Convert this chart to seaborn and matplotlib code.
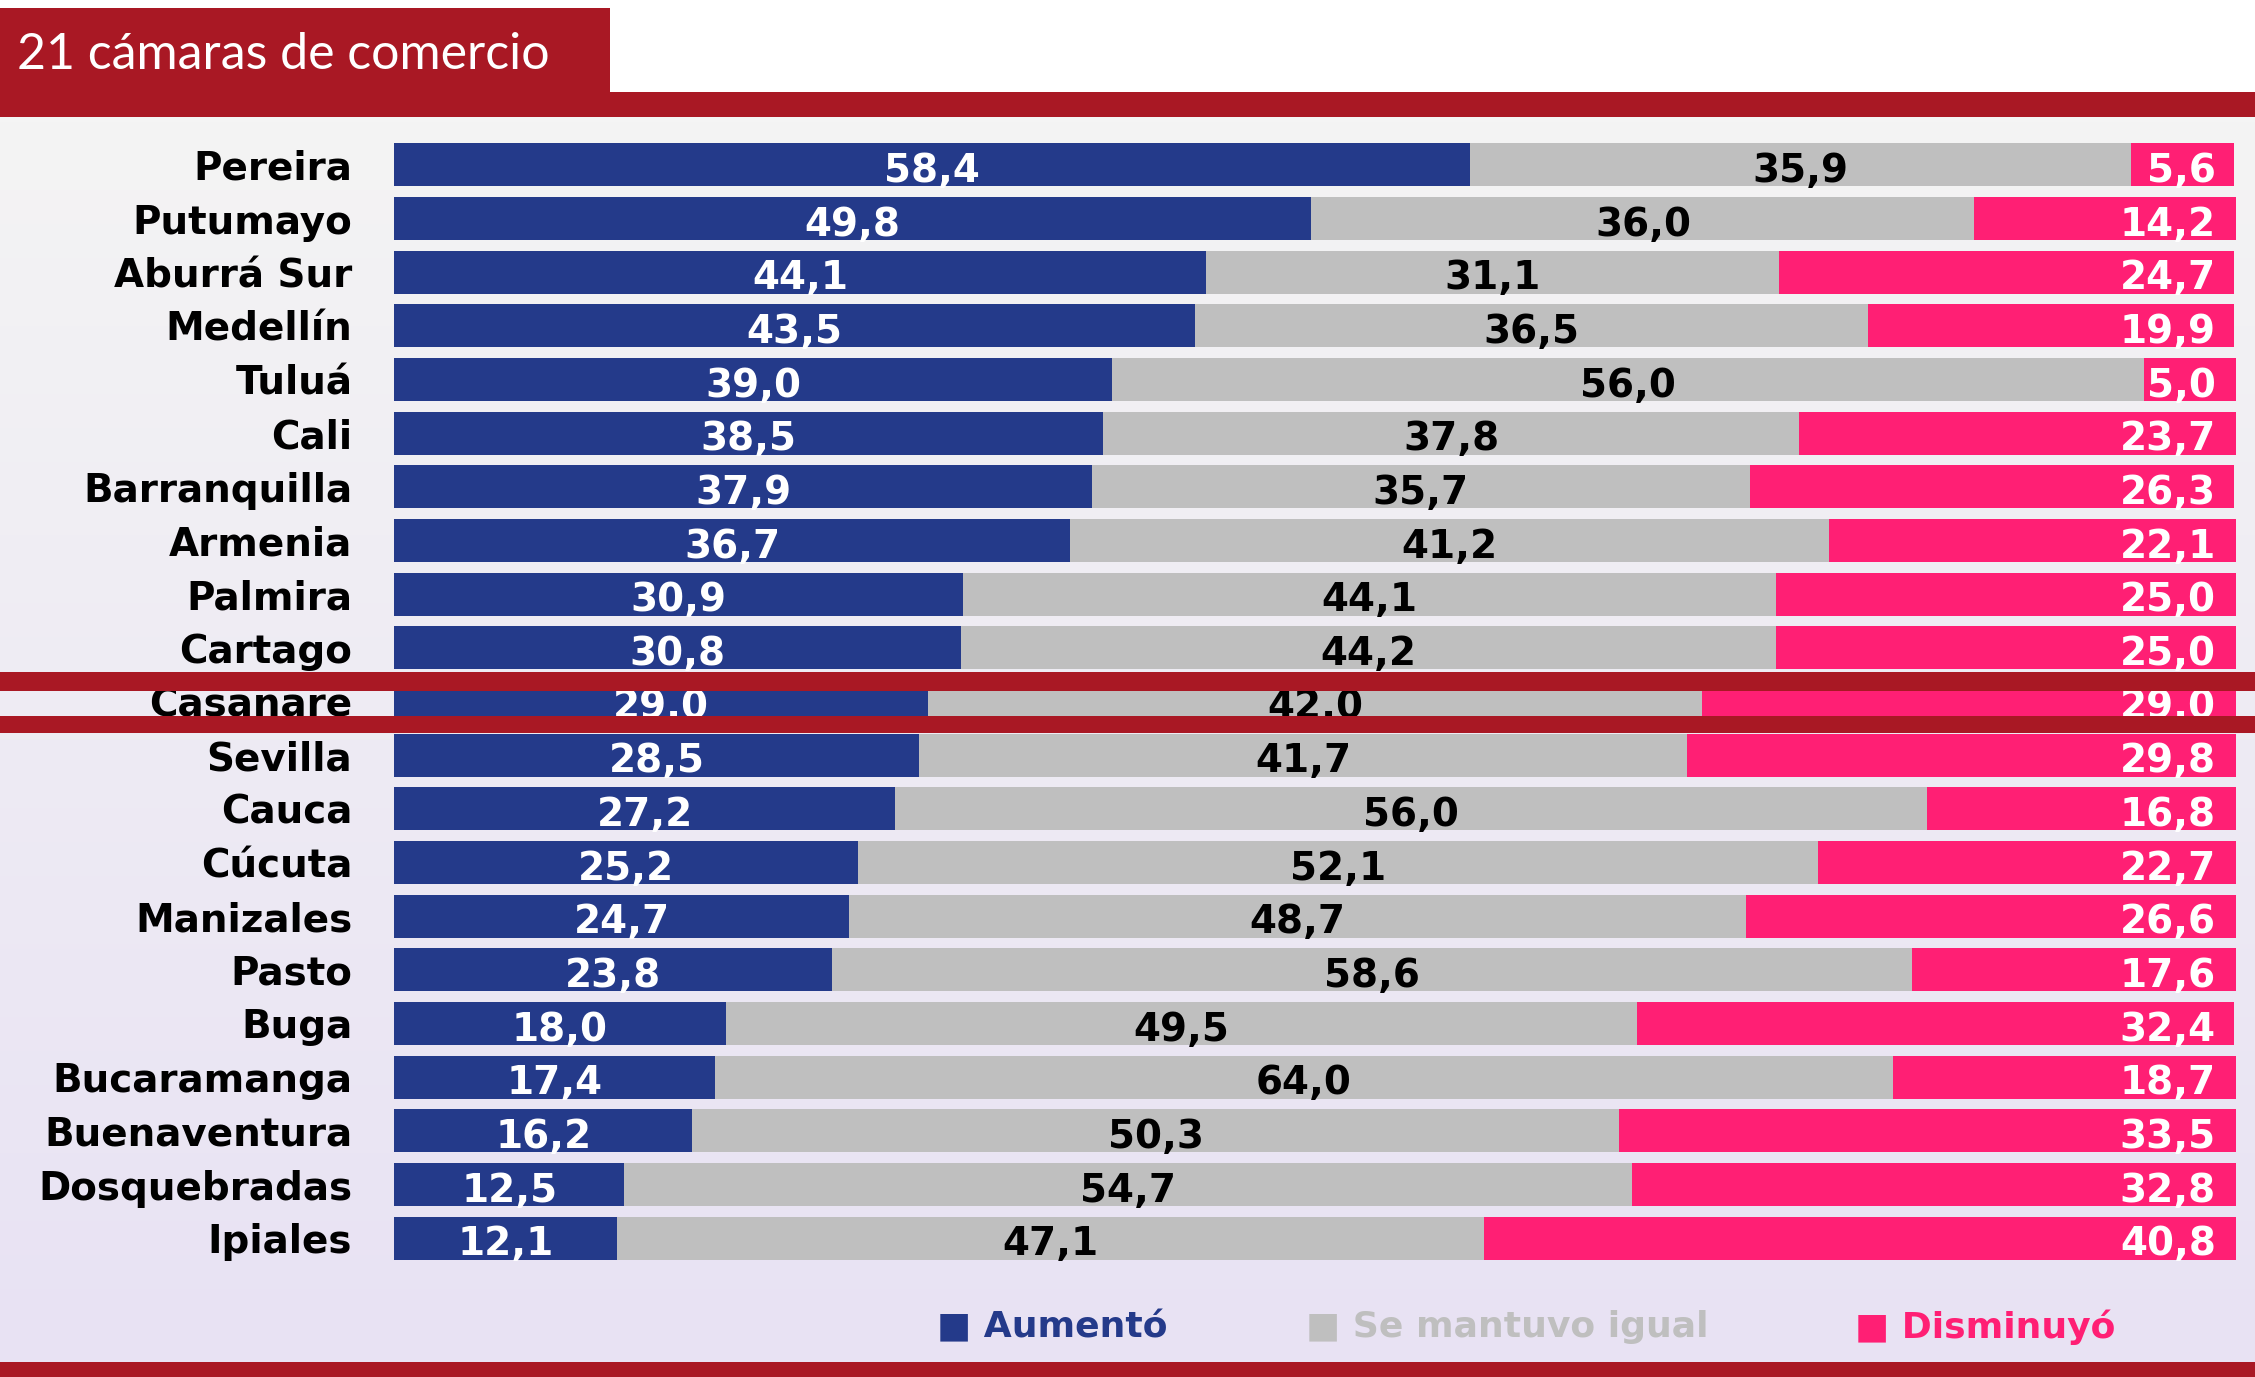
import numpy as np
import pandas as pd
import matplotlib
matplotlib.use("Agg")
import matplotlib.pyplot as plt
from matplotlib.patches import Rectangle
import matplotlib.colors as mcolors
import seaborn as sns

# ---- data ----
camaras = ["Pereira", "Putumayo", "Aburrá Sur", "Medellín", "Tuluá", "Cali",
           "Barranquilla", "Armenia", "Palmira", "Cartago", "Casanare", "Sevilla",
           "Cauca", "Cúcuta", "Manizales", "Pasto", "Buga", "Bucaramanga",
           "Buenaventura", "Dosquebradas", "Ipiales"]
aumento = [58.4, 49.8, 44.1, 43.5, 39.0, 38.5, 37.9, 36.7, 30.9, 30.8, 29.0,
           28.5, 27.2, 25.2, 24.7, 23.8, 18.0, 17.4, 16.2, 12.5, 12.1]
igual = [35.9, 36.0, 31.1, 36.5, 56.0, 37.8, 35.7, 41.2, 44.1, 44.2, 42.0,
         41.7, 56.0, 52.1, 48.7, 58.6, 49.5, 64.0, 50.3, 54.7, 47.1]
disminuyo = [5.6, 14.2, 24.7, 19.9, 5.0, 23.7, 26.3, 22.1, 25.0, 25.0, 29.0,
             29.8, 16.8, 22.7, 26.6, 17.6, 32.4, 18.7, 33.5, 32.8, 40.8]
separador = [","] * 10 + ["."] + [","] * 10
series = ["Aumentó", "Se mantuvo igual", "Disminuyó"]
titulo = "21 cámaras de comercio"

# ---- styles ----
AZUL = "#243a8a"
GRIS = "#bfbfbf"
ROSA = "#ff1f74"
ROJO = "#a91824"

sns.set_theme(style="white")
plt.rcParams["font.family"] = ["DejaVu Sans"]

W, H = 2255, 1377
fig = plt.figure(figsize=(W / 100, H / 100), dpi=100)
fig.patch.set_facecolor("white")

# background gradient
bg = fig.add_axes([0, 0, 1, 1], zorder=-10)
bg.set_axis_off()
bg.set_xlim(0, W)
bg.set_ylim(H, 0)
c_top = np.array(mcolors.to_rgb("#f4f4f4"))
c_bot = np.array(mcolors.to_rgb("#e8e2f3"))
t = np.linspace(0, 1, 256)[:, None]
grad = (c_top[None, :] * (1 - t) + c_bot[None, :] * t)[:, None, :]
bg.imshow(grad, extent=(0, W, 1362, 117), aspect="auto", zorder=0)

# main axes
ax = fig.add_axes([394 / W, 1 - 1265 / H, 1842 / W, (1265 - 138) / H])
df = pd.DataFrame({"camara": camaras, "aumento": aumento,
                   "igual": igual, "disminuyo": disminuyo})
df["c2"] = df["aumento"] + df["igual"]
df["c3"] = df["c2"] + df["disminuyo"]

for col, color in zip(["c3", "c2", "aumento"], [ROSA, GRIS, AZUL]):
    sns.barplot(data=df, x=col, y="camara", color=color, saturation=1,
                width=0.8, errorbar=None, orient="h", ax=ax, linewidth=0)

ax.set_xlim(0, 100)
ax.set_ylim(len(camaras) - 0.5, -0.5)
ax.set_xlabel("")
ax.set_ylabel("")
ax.set_xticks([])
ax.patch.set_alpha(0)
for s in ax.spines.values():
    s.set_visible(False)
ax.tick_params(axis="y", length=0, pad=30)
for lab in ax.get_yticklabels():
    lab.set_fontsize(28)
    lab.set_fontweight("heavy")
    lab.set_color("black")

def fmt(v, sep):
    return f"{v:.1f}".replace(".", sep)

kw = dict(fontsize=28, fontweight="bold", va="center_baseline")
for i in range(len(camaras)):
    a, g, d, sep = aumento[i], igual[i], disminuyo[i], separador[i]
    ax.text(a / 2, i + 0.04, fmt(a, sep), ha="center", color="white", **kw)
    ax.text(a + g / 2, i + 0.04, fmt(g, sep), ha="center", color="black", **kw)
    ax.text(98.9, i + 0.04, fmt(d, sep), ha="right", color="white", **kw)

# header
fig.add_artist(Rectangle((0, 1 - 117 / H), 610 / W, (117 - 8) / H,
                         transform=fig.transFigure, color=ROJO, zorder=5, lw=0))
fig.add_artist(Rectangle((0, 1 - 117 / H), 1, (117 - 92) / H,
                         transform=fig.transFigure, color=ROJO, zorder=5, lw=0))
fig.text(17 / W, 1 - 55 / H, titulo, color="white", fontsize=36,
         fontweight="normal", family=["Lato", "DejaVu Sans"], va="center",
         ha="left", zorder=6)

# stripes over Casanare
for y0, y1 in [(672, 691), (716, 733)]:
    fig.add_artist(Rectangle((0, 1 - y1 / H), 1, (y1 - y0) / H,
                             transform=fig.transFigure, color=ROJO, zorder=5, lw=0))

# bottom band
fig.add_artist(Rectangle((0, 0), 1, (H - 1362) / H,
                         transform=fig.transFigure, color=ROJO, zorder=5, lw=0))

# legend
for name, color, x in zip(series, [AZUL, GRIS, ROSA], [937, 1306, 1855]):
    fig.text(x / W, 1 - 1327 / H, "■ " + name, color=color, fontsize=26,
             fontweight="bold", va="center", ha="left")

fig.savefig("out.png", dpi=100)
